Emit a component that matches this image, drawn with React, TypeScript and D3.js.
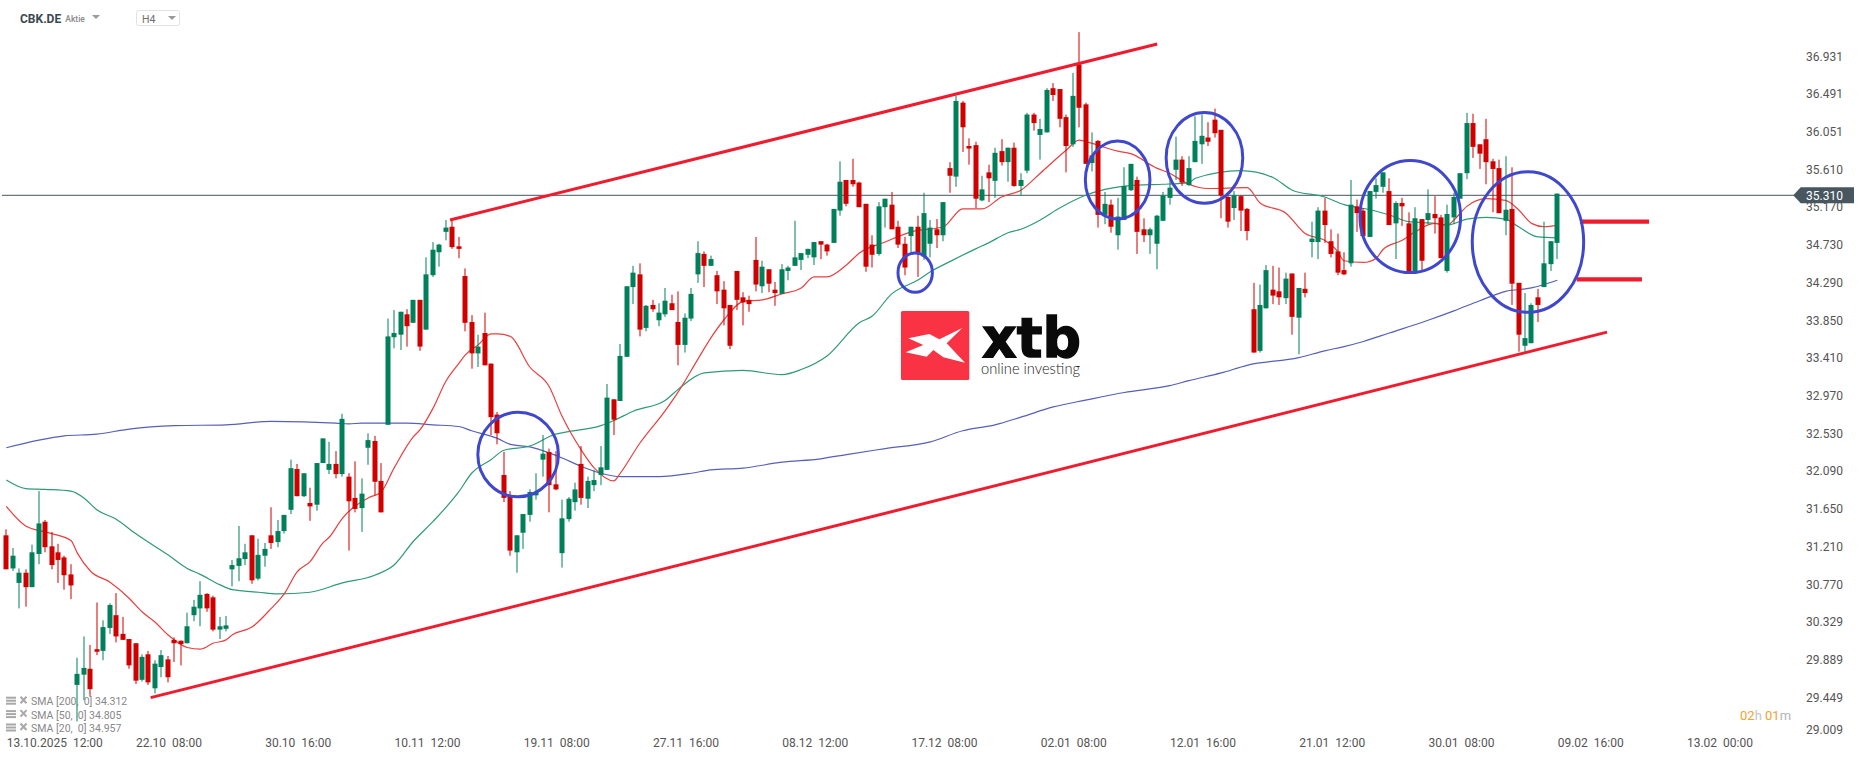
import React from "react";
import * as d3 from "d3";

const opens = [
  31.31,30.92,30.75,30.87,30.70,31.09,31.47,31.18,31.11,31.05,
  30.85,29.55,29.67,29.74,29.97,29.95,30.22,30.37,30.15,30.09,
  30.04,29.61,29.91,29.51,29.76,29.85,30.08,30.07,30.04,30.37,
  30.45,30.62,30.58,30.20,30.21,30.91,30.95,31.03,31.31,30.80,
  31.07,31.31,31.23,31.36,31.61,32.09,31.77,31.69,31.67,32.16,
  32.08,32.15,32.03,32.00,31.75,31.63,32.34,32.42,31.95,32.61,
  33.64,33.67,33.91,33.81,34.08,33.73,34.37,34.64,34.88,34.94,
  34.71,34.36,33.82,33.45,33.69,33.33,32.73,32.02,31.77,31.11,
  31.34,31.55,31.78,32.20,32.29,31.91,31.10,31.50,31.70,32.15,
  31.74,31.90,32.02,32.08,32.91,32.89,33.41,34.23,34.38,33.75,
  34.02,33.84,33.91,34.04,33.82,33.55,33.86,34.38,34.62,34.48,
  34.37,34.20,34.02,34.42,34.11,34.08,34.55,34.24,34.44,34.20,
  34.15,34.42,34.48,34.55,34.61,34.58,34.77,34.73,34.75,35.13,
  35.49,35.49,35.46,35.21,34.73,34.62,35.17,35.20,34.94,34.74,
  34.83,34.94,34.59,34.74,34.91,34.84,35.63,35.53,36.40,35.89,
  35.90,35.25,35.58,35.48,35.83,35.70,35.87,35.42,35.60,36.26,
  36.02,36.05,36.57,36.56,36.23,35.91,36.85,36.38,35.69,35.95,
  35.08,35.20,34.84,35.02,35.37,35.49,34.91,34.84,34.74,35.01,
  35.28,35.61,35.73,35.43,35.70,35.91,35.99,36.20,36.08,35.29,
  35.16,35.30,35.15,33.97,33.48,33.98,34.20,34.18,34.10,34.39,
  33.87,34.21,34.76,34.76,35.13,34.77,34.65,34.43,34.51,35.18,
  35.13,34.82,35.35,35.41,35.36,34.98,35.22,34.98,34.41,35.03,
  35.02,35.09,35.05,34.42,35.05,35.27,35.57,36.16,35.91,35.97,
  35.71,35.63,35.01,35.15,34.28,33.54,33.57,34.11,34.23,34.50,34.75,
];
const highs = [
  31.38,31.16,30.92,30.91,31.20,31.83,31.49,31.35,31.21,31.07,
  30.97,29.87,30.12,30.02,30.52,30.31,30.51,30.63,30.35,30.09,
  30.04,29.91,29.95,29.84,29.96,29.89,30.11,30.07,30.40,30.55,
  30.77,30.63,30.60,30.35,30.36,31.02,31.42,31.21,31.31,31.27,
  31.22,31.64,31.49,31.55,32.20,32.15,32.04,31.87,32.16,32.45,
  32.41,32.30,32.74,32.04,32.18,31.98,32.51,32.48,32.16,33.86,
  33.96,33.94,33.97,34.08,34.08,34.58,34.76,34.74,35.02,35.02,
  34.82,34.45,33.90,33.67,33.93,33.33,32.76,32.29,31.83,31.31,
  31.56,31.85,32.04,32.49,32.33,32.30,31.73,31.76,31.93,32.36,
  32.00,32.08,32.36,33.09,32.91,33.56,34.24,34.48,34.51,34.02,
  34.08,34.04,34.22,34.14,34.18,33.92,34.22,34.77,34.65,34.60,
  34.42,34.30,34.02,34.42,34.17,34.13,34.82,34.54,34.44,34.29,
  34.50,34.48,35.01,34.63,34.68,34.76,34.77,34.74,35.15,35.71,
  35.49,35.74,35.47,35.21,34.84,35.23,35.27,35.35,35.01,34.82,
  34.94,35.07,35.34,35.02,35.03,35.23,35.70,36.48,36.42,35.98,
  35.94,35.54,35.67,35.87,35.97,35.87,35.93,35.57,36.28,36.28,
  36.21,36.57,36.63,36.56,36.26,36.75,37.23,36.40,36.05,35.96,
  35.35,35.26,35.28,35.64,35.68,35.53,35.04,34.93,35.08,35.35,
  35.49,36.00,35.77,35.77,36.24,36.26,36.17,36.33,36.08,35.31,
  35.36,35.31,35.16,34.28,34.26,34.49,34.48,34.46,34.40,34.39,
  34.22,34.40,35.00,35.17,35.28,34.91,34.86,34.64,35.49,35.26,
  35.16,35.36,35.51,35.58,35.51,35.24,35.28,35.11,35.17,35.03,
  35.38,35.30,35.08,35.20,35.34,35.57,36.28,36.27,35.91,36.21,
  35.74,35.73,35.77,35.64,34.28,34.16,34.04,34.21,35.00,34.77,35.33,
];
const lows = [
  30.91,30.89,30.45,30.47,30.70,30.97,31.11,30.91,30.75,30.67,
  30.56,29.12,29.37,29.42,29.90,29.84,30.15,30.05,30.08,29.74,
  29.56,29.59,29.55,29.45,29.64,29.58,29.82,29.78,30.04,30.30,
  30.24,30.41,30.18,30.09,30.18,30.71,30.77,30.96,30.74,30.78,
  30.94,31.15,31.17,31.33,31.56,31.77,31.76,31.48,31.60,32.16,
  32.03,31.98,32.00,31.13,31.58,31.35,32.14,31.78,31.58,32.61,
  33.51,33.49,33.53,33.81,33.48,33.73,34.35,34.47,34.78,34.68,
  34.57,33.71,33.27,33.29,33.31,32.49,32.38,31.70,31.07,30.87,
  31.15,31.47,31.73,32.00,31.58,31.84,30.93,31.47,31.60,31.67,
  31.63,31.83,31.90,32.08,32.49,32.89,33.41,34.03,33.65,33.71,
  33.94,33.77,33.88,33.96,33.31,33.46,33.83,34.28,34.23,34.48,
  34.03,33.78,33.50,33.96,33.78,33.94,34.18,34.16,34.17,34.01,
  34.15,34.31,34.48,34.43,34.57,34.49,34.56,34.60,34.75,35.07,
  35.18,35.41,35.17,34.41,34.46,34.60,34.93,34.91,34.69,34.37,
  34.64,34.35,34.55,34.58,34.69,34.77,35.34,35.41,35.82,35.67,
  35.16,35.24,35.23,35.28,35.66,35.47,35.41,35.31,35.57,36.07,
  35.73,36.05,36.42,36.11,35.58,35.88,36.11,35.68,35.59,34.93,
  34.97,34.87,34.67,35.02,35.36,34.62,34.76,34.62,34.44,35.01,
  35.20,35.49,35.42,35.42,35.70,35.68,35.89,35.99,35.04,34.93,
  35.02,34.89,34.78,33.46,33.46,33.98,34.03,34.02,34.03,33.67,
  33.44,34.11,34.58,34.56,34.75,34.58,34.37,34.37,34.47,34.88,
  34.83,34.82,35.27,35.34,34.96,34.56,34.95,34.41,34.41,34.43,
  34.97,34.86,34.57,34.40,34.97,35.27,35.50,35.75,35.62,35.44,
  35.11,35.10,34.84,34.02,33.47,33.47,33.57,33.82,34.23,34.42,34.56,
];
const closes = [
  30.91,31.07,30.87,30.70,31.11,31.45,31.17,30.96,31.02,30.84,
  30.72,29.68,29.75,29.50,29.94,30.23,30.49,30.12,30.08,29.78,
  29.60,29.88,29.58,29.80,29.90,29.64,30.04,30.03,30.24,30.47,
  30.61,30.45,30.20,30.24,30.25,30.96,31.04,31.11,30.78,31.08,
  31.15,31.22,31.36,31.55,32.10,31.77,32.04,31.65,32.16,32.45,
  32.15,32.03,32.68,31.71,31.62,31.80,32.43,31.94,31.58,33.65,
  33.69,33.94,33.77,34.08,33.53,34.38,34.67,34.73,34.93,34.70,
  34.68,33.81,33.45,33.53,33.31,32.70,32.51,31.75,31.13,31.31,
  31.56,31.82,31.82,32.27,31.90,31.85,31.51,31.74,31.85,31.75,
  31.95,31.96,32.11,32.93,32.67,33.42,34.24,34.40,33.73,34.01,
  33.97,33.93,34.07,33.96,33.55,33.87,34.15,34.63,34.48,34.56,
  34.18,33.98,33.54,34.08,34.05,34.03,34.26,34.47,34.27,34.16,
  34.44,34.46,34.58,34.63,34.68,34.76,34.73,34.65,35.15,35.47,
  35.21,35.44,35.17,34.47,34.61,35.18,35.27,34.91,34.73,34.46,
  34.94,34.62,35.10,34.93,34.84,35.23,35.54,36.42,36.11,35.86,
  35.27,35.38,35.51,35.81,35.70,35.87,35.42,35.49,36.26,36.16,
  36.09,36.55,36.49,36.21,35.89,36.48,36.34,35.68,35.78,35.08,
  35.21,34.94,35.06,35.42,35.68,34.88,34.84,34.91,35.07,35.31,
  35.40,35.73,35.46,35.63,35.95,36.01,35.94,36.04,35.31,35.00,
  35.31,35.13,34.89,33.46,34.02,34.43,34.13,34.11,34.33,33.88,
  34.22,34.16,34.80,35.13,34.96,34.62,34.40,34.38,35.20,35.10,
  34.83,35.36,35.43,35.58,34.96,35.22,35.18,34.41,35.04,34.54,
  35.10,35.04,34.57,35.09,35.29,35.57,36.16,35.88,35.80,35.70,
  35.62,35.10,35.14,34.27,33.67,33.63,34.02,34.02,34.51,34.77,35.33,
];

const sma200Bars = [0,9,14,19,26,34,41,51,53,55,62,66,70,72,76,78,81,84,86,89,92,95,101,106,109,114,120,126,130,136,143,148,153,157,162,167,173,180,183,188,192,200,204,207,210,214,220,224,228,232,236,240];
const sma200 = [32.34,32.48,32.50,32.56,32.60,32.61,32.65,32.63,32.62,32.63,32.63,32.61,32.59,32.54,32.45,32.38,32.35,32.28,32.22,32.12,32.04,32.00,32.00,32.04,32.08,32.10,32.17,32.21,32.26,32.33,32.41,32.54,32.61,32.70,32.82,32.90,32.99,33.07,33.13,33.22,33.31,33.40,33.48,33.53,33.59,33.69,33.84,33.95,34.07,34.18,34.22,34.31];

const sma50Bars = [0,3,6,10,12,14,17,20,25,28,30,33,35,39,42,47,52,57,60,63,66,70,72,75,77,81,85,87,92,94,97,102,104,108,114,120,123,127,132,134,137,141,143,146,150,152,155,157,160,163,167,170,175,179,183,184,191,196,199,204,207,211,214,217,221,223,226,229,232,234,237,240];
const sma50 = [31.96,31.86,31.85,31.83,31.75,31.61,31.50,31.33,31.08,30.92,30.85,30.73,30.67,30.64,30.62,30.64,30.75,30.84,30.96,31.24,31.47,31.82,32.04,32.20,32.31,32.36,32.50,32.53,32.60,32.66,32.77,32.90,33.03,33.22,33.25,33.20,33.26,33.42,33.81,33.89,34.15,34.31,34.41,34.53,34.68,34.75,34.87,34.91,35.02,35.16,35.31,35.38,35.43,35.44,35.46,35.51,35.60,35.52,35.37,35.29,35.20,35.14,35.08,35.00,34.98,34.96,35.03,35.05,35.03,34.94,34.82,34.81];

const sma20Bars = [0,3,6,7,10,11,13,16,19,21,23,25,28,30,32,34,35,38,41,43,45,47,49,50,52,56,58,60,63,64,66,68,70,71,73,75,76,78,81,84,86,89,91,94,95,98,102,104,107,109,111,114,117,120,123,125,127,130,132,136,140,145,148,151,154,157,160,164,166,168,172,174,178,180,183,186,192,194,198,201,204,206,207,210,212,213,216,218,221,223,224,226,229,232,234,236,238,240];
const sma20 = [31.65,31.42,31.35,31.33,31.25,31.10,30.89,30.76,30.57,30.41,30.29,30.14,29.99,29.97,30.04,30.08,30.14,30.23,30.45,30.62,30.88,31.00,31.22,31.29,31.51,31.75,31.82,32.10,32.47,32.55,32.80,33.12,33.33,33.43,33.55,33.68,33.68,33.65,33.29,33.06,32.71,32.31,32.10,31.95,32.04,32.39,32.78,33.00,33.38,33.63,33.84,34.06,34.08,34.15,34.22,34.35,34.35,34.49,34.63,34.76,34.88,34.94,35.15,35.15,35.29,35.37,35.57,35.84,35.96,35.92,35.83,35.80,35.63,35.57,35.44,35.39,35.40,35.22,35.10,34.86,34.78,34.65,34.54,34.52,34.57,34.67,34.78,34.88,34.98,34.96,35.02,35.18,35.27,35.25,35.14,34.98,34.94,34.96];

const yTickLabels = ["36.931","36.491","36.051","35.610","35.170","34.730","34.290","33.850","33.410","32.970","32.530","32.090","31.650","31.210","30.770","30.329","29.889","29.449","29.009"];
const xTickBars = [0,20,40,60,80,100,120,140,160,180,200,220,240,260];
const xTickLabels = ["13.10.2025  12:00","22.10  08:00","30.10  16:00","10.11  12:00","19.11  08:00","27.11  16:00","08.12  12:00","17.12  08:00","02.01  08:00","12.01  16:00","21.01  12:00","30.01  08:00","09.02  16:00","13.02  00:00"];
const legendLabels = ["SMA [200,  0] 34.312","SMA [50,  0] 34.805","SMA [20,  0] 34.957"];
const lastPrice = 35.31;

// hand-drawn annotations, in bar / price terms
const channelLower = [[22.34, 29.40], [247.7, 33.70]];
const channelUpper = [[68.66, 35.02], [178.1, 37.09]];
const targetLines = [[243.5, 254.2, 35.0], [243.0, 253.1, 34.32]];
const circles = [
  [79.2, 32.26, 40.3, 42.2],
  [140.64, 34.4, 17.2, 19.7],
  [171.97, 35.49, 32.3, 39],
  [185.4, 35.75, 38.3, 45.3],
  [217.25, 35.06, 50.3, 56],
  [235.46, 34.76, 55.7, 70.3],
];

const W = 1866, H = 761;
const UP = "#00805a", DOWN = "#d00000";
const FONT = "Roboto, sans-serif";
const x = d3.scaleLinear().domain([0, 240]).range([6.3, 1557.3]);
const y = d3.scaleLinear().domain([lastPrice, 29]).range([195.3, 195.3 + 6.31 * 85]);
const axisY = d3.scaleLinear().domain([lastPrice, 29]).range([195.3, 195.3 + 6.31 * 85.7]);

const smaLine = (bars: number[], vals: number[]) =>
  d3.line<number>().curve(d3.curveMonotoneX).x((_, i) => x(bars[i])).y((v) => y(v))(vals) || "";

const logoMark: [number, number][] = [[55,115],[118,102],[148,118],[217,84],[170,130],[225,188],[160,172],[130,150],[110,170],[47,157],[100,135]];
const logoPath = d3.line<[number, number]>().x((d) => 890 + d[0] / 3).y((d) => 300 + d[1] / 3)(logoMark) + "Z";

function Icon({ y0 }: { y0: number }) {
  return (
    <g>
      <rect x={6} y={y0 - 5} width={10} height={2} fill="#a8a8a8" />
      <rect x={6} y={y0 - 2} width={10} height={2} fill="#a8a8a8" />
      <rect x={6} y={y0 + 1} width={10} height={2} fill="#a8a8a8" />
      <path d={`M20.5 ${y0 - 5}L26.5 ${y0 + 1.5}M26.5 ${y0 - 5}L20.5 ${y0 + 1.5}`} stroke="#a8a8a8" strokeWidth={2} />
    </g>
  );
}

export default function App() {
  return (
    <svg width={W} height={H} viewBox={`0 0 ${W} ${H}`} style={{ position: "fixed", left: 0, top: 0, background: "#fff", display: "block" }} fontFamily={FONT}>
      {/* logo */}
      <rect x={901} y={311} width={68.3} height={69} rx={1.5} fill="#f93343" />
      <path d={logoPath} fill="#fff" />
      <text x={982} y={357} fontFamily="'DejaVu Sans', sans-serif" fontWeight={700} fontSize={55} textLength={99} lengthAdjust="spacingAndGlyphs" fill="#0a0a0a" stroke="#0a0a0a" strokeWidth={1.4}>xtb</text>
      <text x={981} y={374} fontFamily="Lato, sans-serif" fontWeight={300} fontSize={15} textLength={99} lengthAdjust="spacingAndGlyphs" fill="#222">online investing</text>

      {/* last price line */}
      <line x1={2} x2={1794} y1={y(lastPrice)} y2={y(lastPrice)} stroke="#47565f" strokeWidth={1} />

      {/* SMAs */}
      <path d={smaLine(sma200Bars, sma200)} fill="none" stroke="#5560b8" strokeWidth={1.2} />
      <path d={smaLine(sma50Bars, sma50)} fill="none" stroke="#2f9a78" strokeWidth={1.2} />
      <path d={smaLine(sma20Bars, sma20)} fill="none" stroke="#e8403f" strokeWidth={1.2} />

      {/* candles */}
      {opens.map((o, i) => {
        const c = closes[i];
        const col = c >= o ? UP : DOWN;
        const cx = Math.round(x(i));
        const top = y(Math.max(o, c));
        const bot = y(Math.min(o, c));
        return (
          <g key={i}>
            <rect x={cx - 0.5} y={y(highs[i])} width={1} height={Math.max(0, y(lows[i]) - y(highs[i]))} fill={col} />
            <rect x={cx - 2.5} y={top} width={5} height={Math.max(1, bot - top)} fill={col} />
          </g>
        );
      })}

      {/* channel lines */}
      {[channelLower, channelUpper].map((l, i) => (
        <line key={i} x1={x(l[0][0])} y1={y(l[0][1])} x2={x(l[1][0])} y2={y(l[1][1])} stroke="#ee1c2e" strokeWidth={3} />
      ))}
      {targetLines.map((l, i) => (
        <line key={i} x1={x(l[0])} x2={x(l[1])} y1={y(l[2])} y2={y(l[2])} stroke="#ee1c2e" strokeWidth={4.3} />
      ))}
      {circles.map((c, i) => (
        <ellipse key={i} cx={x(c[0])} cy={y(c[1])} rx={c[2]} ry={c[3]} fill="none" stroke="#3f48cc" strokeWidth={3} />
      ))}

      {/* header */}
      <text x={20} y={22.5} fontSize={12} fontWeight={700} fill="#3a4852">CBK.DE</text>
      <text x={65.3} y={22} fontSize={8.5} fontWeight={500} fill="#8a8a8a">Aktie</text>
      <path d="M92 15h8l-4 4z" fill="#9a9a9a" />
      <rect x={136.5} y={10.5} width={43} height={15} rx={2} fill="#fff" stroke="#e2e2e2" />
      <text x={142} y={23} fontSize={10.5} fill="#707070">H4</text>
      <path d="M168 16h8l-4 4z" fill="#9a9a9a" />

      {/* legend */}
      {legendLabels.map((t, i) => {
        const yy = 701.7 + i * 13.4;
        return (
          <g key={t}>
            <Icon y0={yy} />
            <text x={31} y={yy + 3.6} fontSize={10.5} fill="#888" style={{ whiteSpace: "pre" }}>{t}</text>
          </g>
        );
      })}

      {/* axes */}
      {yTickLabels.map((t) => (
        <text key={t} x={1806} y={Math.min(axisY(+t), 730) + 4.2} fontSize={12} fill="#555">{t}</text>
      ))}
      {xTickLabels.map((t, i) => (
        <text key={t} x={x(xTickBars[i]) + 0.4} y={747} fontSize={12} fill="#555" style={{ whiteSpace: "pre" }}>{t}</text>
      ))}

      {/* last price tag */}
      <path d={`M1793.3 ${y(lastPrice)}L1800.7 187.3H1854V203.3H1800.7Z`} fill="#47565f" />
      <text x={1806} y={y(lastPrice) + 4.5} fontSize={12} fill="#fff">{lastPrice.toFixed(3)}</text>

      {/* countdown */}
      <text x={1740} y={719.5} fontSize={13}>
        <tspan fill="#f7a02e">02</tspan><tspan fill="#c4c4c4">h </tspan><tspan fill="#f7a02e">01</tspan><tspan fill="#b4b4b4">m</tspan>
      </text>
    </svg>
  );
}
